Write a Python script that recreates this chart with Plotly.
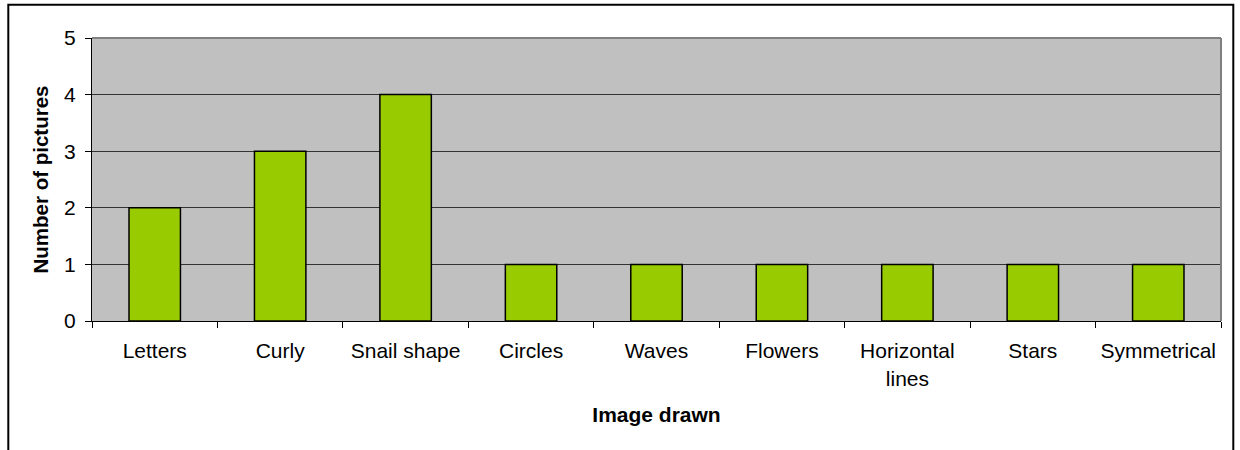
import plotly.graph_objects as go

categories = ["Letters", "Curly", "Snail shape", "Circles", "Waves", "Flowers",
              "Horizontal lines", "Stars", "Symmetrical"]
counts = [2, 3, 4, 1, 1, 1, 1, 1, 1]
tick_labels = ["Letters", "Curly", "Snail shape", "Circles", "Waves", "Flowers",
               "Horizontal<br>lines", "Stars", "Symmetrical"]
y_ticks = [0, 1, 2, 3, 4, 5]

FONT = "Liberation Sans, Arial, sans-serif"

fig = go.Figure()
fig.add_trace(go.Bar(
    x=categories, y=counts,
    marker=dict(color="#99CC00", line=dict(color="#000000", width=1.5)),
))

fig.update_layout(
    width=1240, height=450,
    margin=dict(l=92, r=19, t=38, b=129, autoexpand=False),
    paper_bgcolor="white", plot_bgcolor="#C0C0C0",
    bargap=0.59, showlegend=False,
    font=dict(family=FONT, size=21, color="black"),
    xaxis=dict(
        type="category", tickvals=categories, ticktext=tick_labels,
        tickson="boundaries", ticks="outside", ticklen=6, tickcolor="black",
        showline=True, linecolor="black", linewidth=1, showgrid=False,
        ticklabelstandoff=11,
        tickfont=dict(family=FONT, size=21),
        title=dict(text="<b>Image drawn</b>", font=dict(family=FONT, size=21), standoff=18),
        automargin=False,
    ),
    yaxis=dict(
        range=[0, 5], tickvals=y_ticks, ticks="outside", ticklen=6, tickcolor="black",
        showline=True, linecolor="black", linewidth=1,
        showgrid=True, gridcolor="#333333", gridwidth=1,
        zeroline=False, ticklabelstandoff=5,
        tickfont=dict(family=FONT, size=21),
        title=dict(text="<b>Number of pictures</b>", font=dict(family=FONT, size=20.5), standoff=9),
        automargin=False,
    ),
)

# plot-area border (right and top) in gray
fig.add_shape(type="line", xref="paper", yref="paper", x0=1, x1=1, y0=0, y1=1,
              line=dict(color="#808080", width=2))
fig.add_shape(type="line", xref="paper", yref="paper", x0=0, x1=1, y0=1, y1=1,
              line=dict(color="#808080", width=2))

# outer chart border
pw, ph = 1240 - 92 - 19, 450 - 38 - 129
fig.add_shape(type="rect", xref="paper", yref="paper",
              x0=(8.3 - 92) / pw, x1=(1233.3 - 92) / pw,
              y0=(321 - 470) / ph, y1=(321 - 4.8) / ph,
              line=dict(color="black", width=2), fillcolor="rgba(0,0,0,0)", layer="below")

fig.write_html("out.html", config={"displayModeBar": False},
               post_script="document.body.style.margin='0';")
